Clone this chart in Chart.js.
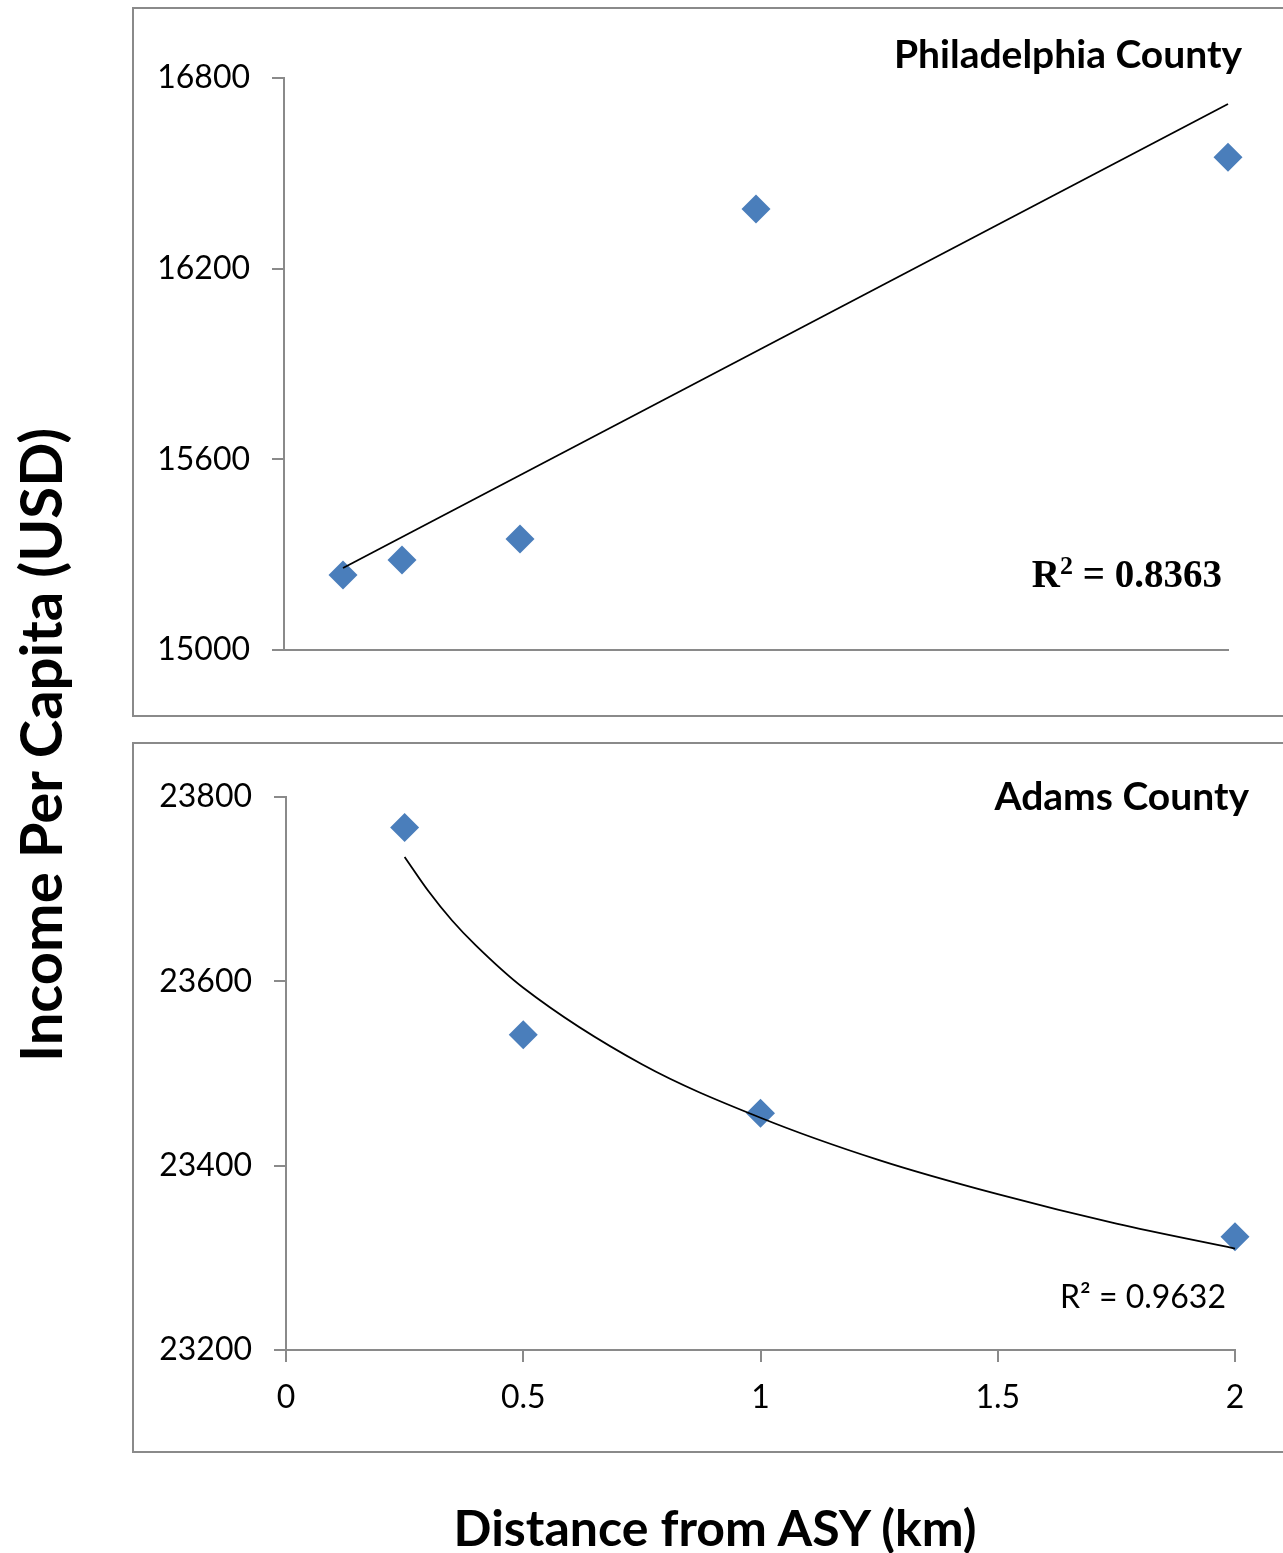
<!DOCTYPE html>
<html>
<head>
<meta charset="utf-8">
<script src="https://cdn.jsdelivr.net/npm/chart.js@4"></script>
<style>
    body { margin: 0; background: #fff; width: 1283px; height: 1553px; overflow: hidden; position: relative; font-family: Lato, sans-serif; }
    .box { position: absolute; border: 2px solid #8a8a8a; box-sizing: border-box; }
    .wrap { position: absolute; }
    .lbl { position: absolute; white-space: nowrap; color: #000; line-height: 1; }
</style>
</head>
<body>
<div class="box" style="left:132px; top:7px; width:1170px; height:710px"></div>
<div class="box" style="left:132px; top:742px; width:1170px; height:711px"></div>

<div class="wrap" style="left:132px; top:8px; width:1151px; height:708px"><canvas id="phl"></canvas></div>
<div class="wrap" style="left:132px; top:743px; width:1151px; height:709px"><canvas id="adams"></canvas></div>

<div class="lbl" style="right:41px; top:34px; font-size:39px; font-weight:bold">Philadelphia County</div>
<div class="lbl" style="right:34px; top:776px; font-size:39px; font-weight:bold">Adams County</div>
<div class="lbl" style="right:61px; top:553px; font-size:39px; font-weight:bold; font-family:'Liberation Serif', serif">R<span style="font-size:26px; vertical-align:13px">2</span> = 0.8363</div>
<div class="lbl" style="right:57px; top:1280px; font-size:32px">R² = 0.9632</div>

<div class="lbl" style="left:40px; top:745px; font-size:58px; font-weight:bold; transform: translate(-50%, -50%) rotate(-90deg)">Income Per Capita (USD)</div>
<div class="lbl" style="left:715px; top:1527px; font-size:50px; font-weight:bold; transform: translate(-50%, -50%)">Distance from ASY (km)</div>

<script>
// Philadelphia County: distance (km) vs income per capita (USD)
const phlDist = [0.125, 0.25, 0.5, 1, 2]
const phlIncome = [15236, 15283, 15349, 16388, 16551]
// linear trendline, read at its two ends
const phlTrendDist = [0.125, 2]
const phlTrendIncome = [15258, 16718]

// Adams County
const adamsDist = [0.25, 0.5, 1, 2]
const adamsIncome = [23767, 23542, 23457, 23323]
// log trendline
const adamsTrendDist = [0.25, 0.3, 0.35, 0.4, 0.5, 0.75, 1, 1.25, 1.5, 1.75, 2]
const adamsTrendIncome = [23735, 23698, 23666, 23639, 23593, 23510, 23452, 23406, 23369, 23337, 23310]

const phlTicks = [15000, 15600, 16200, 16800]
const adamsTicks = [23200, 23400, 23600, 23800]
const distTicks = [0, 0.5, 1, 1.5, 2]

const axisGray = '#8a8a8a'
const markerBlue = '#4a7ebb'

function pts(xs, ys) {
    return xs.map((x, i) => ({ x: x, y: ys[i] }))
}

function makeChart(id, o) {
    const ctx = document.getElementById(id)
    return new Chart(ctx, {
        type: 'scatter',
        data: {
            datasets: [{
                // trendline first so it is drawn over the markers
                data: pts(o.trendX, o.trendY),
                showLine: true,
                borderColor: '#000',
                borderWidth: 1.8,
                pointRadius: 0,
                cubicInterpolationMode: 'monotone',
                clip: false
            }, {
                data: pts(o.x, o.y),
                pointStyle: 'rectRot',
                pointRadius: 14.5,
                backgroundColor: markerBlue,
                borderWidth: 0,
                showLine: false,
                clip: false
            }]
        },
        options: {
            animation: false,
            responsive: true,
            maintainAspectRatio: false,
            layout: { padding: { left: 0, top: o.padTop, right: o.padRight, bottom: 0 } },
            plugins: { legend: { display: false }, tooltip: { enabled: false } },
            scales: {
                x: {
                    type: 'linear',
                    min: 0,
                    max: 2,
                    afterBuildTicks: s => { s.ticks = distTicks.map(v => ({ value: v })) },
                    afterFit: s => { s.height = o.xHeight },
                    ticks: {
                        display: o.showX,
                        color: '#000',
                        padding: 16,
                        font: { family: 'Lato', size: 32 },
                        callback: v => String(v)
                    },
                    grid: {
                        drawOnChartArea: false,
                        drawTicks: o.showX,
                        tickLength: 12,
                        color: axisGray,
                        lineWidth: 2
                    },
                    border: { color: axisGray, width: 2 }
                },
                y: {
                    min: o.ticks[0],
                    max: o.ticks[o.ticks.length - 1],
                    afterBuildTicks: s => { s.ticks = o.ticks.map(v => ({ value: v })) },
                    afterFit: s => { s.width = o.yWidth },
                    ticks: {
                        color: '#000',
                        padding: 22,
                        font: { family: 'Lato', size: 32 },
                        callback: v => String(v)
                    },
                    grid: {
                        drawOnChartArea: false,
                        tickLength: 12,
                        color: axisGray,
                        lineWidth: 2
                    },
                    border: { color: axisGray, width: 2 }
                }
            }
        }
    })
}

makeChart('phl', {
    x: phlDist, y: phlIncome, trendX: phlTrendDist, trendY: phlTrendIncome,
    ticks: phlTicks, showX: false,
    padTop: 70, padRight: 55, yWidth: 152, xHeight: 66
})

makeChart('adams', {
    x: adamsDist, y: adamsIncome, trendX: adamsTrendDist, trendY: adamsTrendIncome,
    ticks: adamsTicks, showX: true,
    padTop: 54, padRight: 48, yWidth: 154, xHeight: 102
})
</script>
</body>
</html>
